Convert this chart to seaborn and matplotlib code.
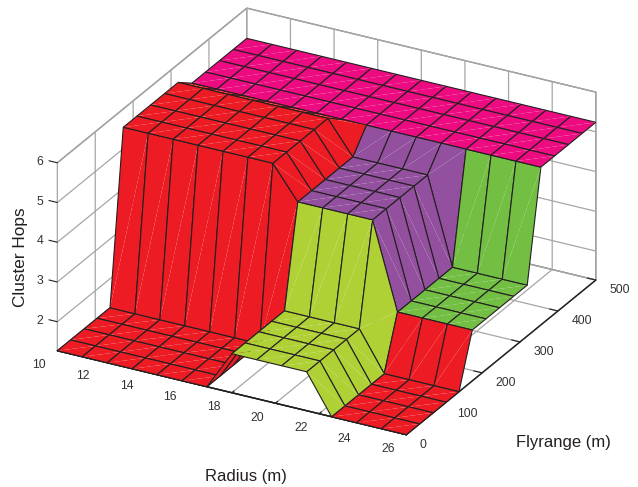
import numpy as np
import seaborn as sns
import matplotlib.pyplot as plt
from mpl_toolkits.mplot3d.art3d import Poly3DCollection

radius_nodes = np.linspace(10, 26, 15)
flyrange_nodes = [0, 35, 71, 105, 139, 174, 210, 246, 283, 319, 355, 391, 428, 464, 500]

# how many nodes belong to each block along radius / flyrange
radius_blocks = [7, 4, 4]
flyrange_blocks = [5, 5, 5]

# hop level of each block, rows = flyrange block, columns = radius block
hops_low = [1.27, 2.25, 1.27]
hops_mid = [5.54, 4.72, 2.55]
hops_high = [5.24, 5.24, 5.24]

RED = '#ED1C24'
LIME = '#AFD136'
GREEN = '#72BF44'
PURPLE = '#92509F'
PINK = '#EC0B80'
colors_low = [RED, LIME, RED]
colors_mid = [RED, PURPLE, GREEN]
colors_high = [PINK, PINK, PINK]

radius_ticks = [10, 12, 14, 16, 18, 20, 22, 24, 26]
flyrange_ticks = [0, 100, 200, 300, 400, 500]
hops_ticks = [2, 3, 4, 5, 6]

sns.set_style('white')
plt.rcParams['font.family'] = ['Liberation Sans', 'DejaVu Sans']

hops_table = np.array([hops_low, hops_mid, hops_high])
color_table = np.array([colors_low, colors_mid, colors_high])
hops = np.repeat(np.repeat(hops_table, flyrange_blocks, axis=0), radius_blocks, axis=1)
cell_colors = np.repeat(np.repeat(color_table, flyrange_blocks, axis=0), radius_blocks, axis=1)

fig = plt.figure(figsize=(6.38, 4.87), dpi=100)
ax = fig.add_axes([1 / 638, 15.5 / 487, 1, 1], projection='3d')
ax.set_proj_type('ortho')
ax.view_init(elev=26.3, azim=-61.5)
ax.set_box_aspect((1, 1, 0.528), zoom=1.195)

# two triangles per cell, stroke left open so the diagonal stays a thin seam
triangles = []
face_list = []
for j in range(len(flyrange_nodes) - 1):
    for i in range(len(radius_nodes) - 1):
        a = (radius_nodes[i], flyrange_nodes[j], hops[j, i])
        b = (radius_nodes[i + 1], flyrange_nodes[j], hops[j, i + 1])
        c = (radius_nodes[i + 1], flyrange_nodes[j + 1], hops[j + 1, i + 1])
        d = (radius_nodes[i], flyrange_nodes[j + 1], hops[j + 1, i])
        triangles += [[a, b, c], [c, d, a]]
        face_list += [cell_colors[j, i]] * 2

surface = Poly3DCollection(triangles, closed=False, facecolors=face_list,
                           edgecolors='#231F20', linewidths=0.8, antialiased=True)
ax.add_collection3d(surface)
surface.set_clip_on(False)

ax.set_xlim(10, 26, view_margin=0)
ax.set_ylim(0, 500, view_margin=0)
ax.set_zlim(1.27, 6, view_margin=0)
ax.set_xticks(radius_ticks)
ax.set_yticks(flyrange_ticks)
ax.set_zticks(hops_ticks)

for axis, tick_out in [(ax.xaxis, 0.15), (ax.yaxis, 0.3), (ax.zaxis, 0.3)]:
    axis.set_pane_color((1, 1, 1, 1))
    axis.pane.set_edgecolor('#8C8C8C')
    axis.line.set_color('#231F20')
    axis.line.set_linewidth(1.0)
    axis._axinfo['grid']['color'] = '#A6A6A6'
    axis._axinfo['grid']['linewidth'] = 0.9
    axis._axinfo['tick']['inward_factor'] = 0.0
    axis._axinfo['tick']['outward_factor'] = tick_out

# z axis on the left hand side, as in the original
ax.zaxis._axinfo['juggled'] = (1, 0, 2)

ax.tick_params(axis='x', labelsize=8.8, labelcolor='#333333', color='#231F20', pad=3)
ax.tick_params(axis='y', labelsize=8.8, labelcolor='#333333', color='#231F20', pad=-1)
ax.tick_params(axis='z', labelsize=8.8, labelcolor='#333333', color='#231F20', pad=-2.2)

for label in ax.get_xticklabels():
    label.set_ha('right')
    label.set_va('bottom')
for label in ax.get_yticklabels():
    label.set_ha('left')
    label.set_va('center')
for label in ax.get_zticklabels():
    label.set_va('baseline')

fig.text(246 / 638, 1 - 476.5 / 487, 'Radius (m)', fontsize=12, color='#231F20', ha='center', va='center')
fig.text(563.5 / 638, 1 - 442 / 487, 'Flyrange (m)', fontsize=12, color='#231F20', ha='center', va='center')
fig.text(21 / 638, 1 - 257 / 487, 'Cluster Hops', fontsize=12.4, color='#231F20', ha='center', va='center', rotation=90)

fig.savefig('out.png', dpi=100)
plt.close(fig)
